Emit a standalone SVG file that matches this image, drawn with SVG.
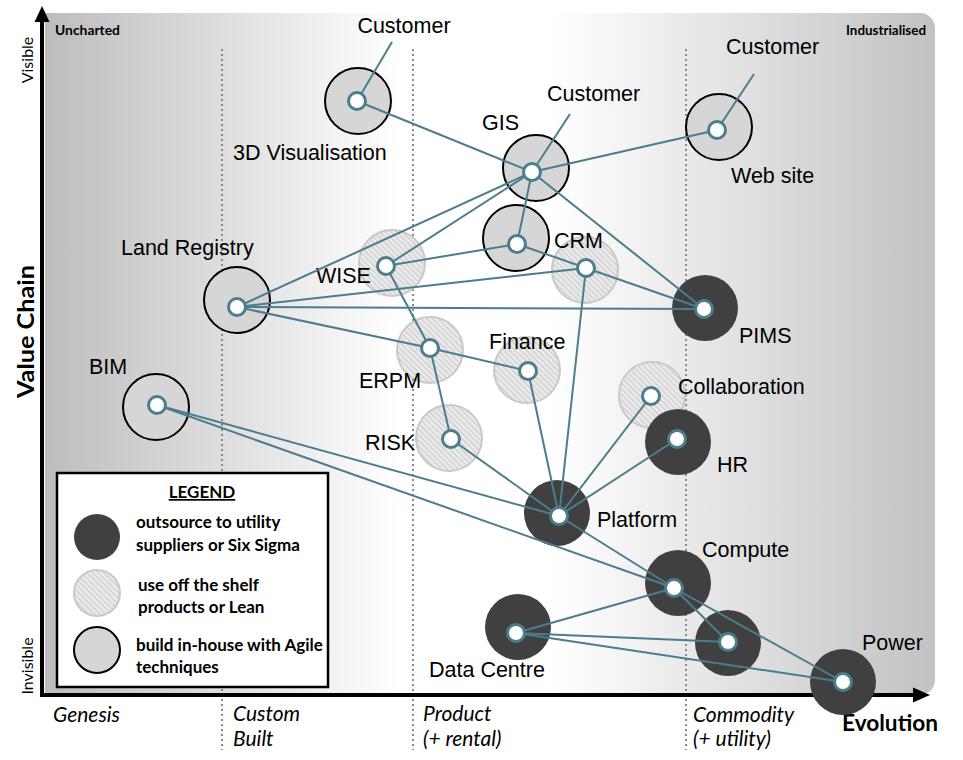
<svg xmlns="http://www.w3.org/2000/svg" width="963" height="760" viewBox="0 0 963 760">
<defs>
<linearGradient id="bg" x1="0" y1="0" x2="1" y2="0">
<stop offset="0" stop-color="#bdbdbd"/>
<stop offset="0.4" stop-color="#ffffff"/>
<stop offset="0.57" stop-color="#ffffff"/>
<stop offset="1" stop-color="#c2c2c2"/>
</linearGradient>
<pattern id="hatch" width="4" height="4" patternUnits="userSpaceOnUse" patternTransform="rotate(-45)">
<rect width="4" height="4" fill="#e9e9e9"/>
<line x1="0" y1="0" x2="0" y2="4" stroke="#c2c2c2" stroke-width="1.6"/>
</pattern>
<style>
.build{fill:#d6d6d6;stroke:#000;stroke-width:2}
.shelf{fill:url(#hatch);stroke:#c9c9c9;stroke-width:2}
.util{fill:#404040}
.hub{fill:#fff;stroke:#4b7d8c;stroke-width:3}
.edge{stroke:#4b7d8c;stroke-width:2;fill:none}
.lbl{font-family:"Liberation Sans",Arial,sans-serif;font-size:21.5px;fill:#000}
.dot{stroke:#8a8a8a;stroke-width:2;stroke-dasharray:2 3}
.ax{font-family:Lato,"Open Sans",sans-serif;fill:#000}
.stage{font-family:Lato,"Open Sans",sans-serif;font-style:italic;font-size:21px;fill:#000}
.leg{font-family:Lato,"Open Sans",sans-serif;font-weight:bold;font-size:17px;fill:#000}
</style>
</defs>
<rect width="963" height="760" fill="#fff"/>
<path d="M45,13 H920 A15,15 0 0 1 935,28 V680 A15,15 0 0 1 920,695 H45 Z" fill="url(#bg)"/>
<g id="grid">
<line class="dot" x1="222" y1="49" x2="222" y2="750"/>
<line class="dot" x1="413" y1="49" x2="413" y2="750"/>
<line class="dot" x1="686" y1="49" x2="686" y2="750"/>
</g>
<g id="axes">
<line x1="42" y1="697" x2="42" y2="20" stroke="#000" stroke-width="4"/>
<polygon points="42,6 34.5,22 49.5,22" fill="#000"/>
<line x1="40" y1="695" x2="915" y2="695" stroke="#000" stroke-width="4"/>
<polygon points="930,695 913,687.5 913,702.5" fill="#000"/>
<text class="ax" x="55" y="35" font-size="13.5" font-weight="bold" textLength="65" lengthAdjust="spacingAndGlyphs">Uncharted</text>
<text class="ax" x="846" y="35" font-size="13.5" font-weight="bold" textLength="80" lengthAdjust="spacingAndGlyphs">Industrialised</text>
<text class="ax" transform="translate(33,60) rotate(-90)" font-size="16" text-anchor="middle">Visible</text>
<text class="ax" transform="translate(33,666) rotate(-90)" font-size="16" text-anchor="middle">Invisible</text>
<text class="ax" transform="translate(34,398) rotate(-90)" font-size="23" font-weight="bold" textLength="133" lengthAdjust="spacingAndGlyphs">Value Chain</text>
<text class="ax" x="842" y="731" font-size="22.5" font-weight="bold" textLength="96" lengthAdjust="spacingAndGlyphs">Evolution</text>
<text class="stage" x="53" y="722">Genesis</text>
<text class="stage" x="233" y="721">Custom</text>
<text class="stage" x="233" y="746">Built</text>
<text class="stage" x="423" y="721">Product</text>
<text class="stage" x="423" y="746">(+ rental)</text>
<text class="stage" x="693" y="722">Commodity</text>
<text class="stage" x="693" y="746">(+ utility)</text>
</g>
<g id="legend">
<rect x="57" y="473" width="271" height="214" fill="#fff" stroke="#000" stroke-width="2.5"/>
<text class="leg" x="202" y="498" text-anchor="middle" text-decoration="underline">LEGEND</text>
<circle class="util" cx="97" cy="537" r="23"/>
<circle class="shelf" cx="97" cy="593" r="23"/>
<circle class="build" cx="97" cy="650" r="23"/>
<text class="leg" x="136" y="528">outsource to utility</text>
<text class="leg" x="136" y="551">suppliers or Six Sigma</text>
<text class="leg" x="138" y="591">use off the shelf</text>
<text class="leg" x="138" y="613">products or Lean</text>
<text class="leg" x="136" y="651">build in-house with Agile</text>
<text class="leg" x="136" y="673">techniques</text>
</g>
<g id="node-3d-visualisation"><circle class="build" cx="358" cy="101" r="33"/><text class="lbl" x="233" y="160">3D Visualisation</text></g>
<g id="node-customer-1"><text class="lbl" x="404" y="33" text-anchor="middle">Customer</text></g>
<g id="node-gis"><circle class="build" cx="536" cy="168" r="33"/><text class="lbl" x="482" y="130">GIS</text></g>
<g id="node-customer-2"><text class="lbl" x="547" y="101">Customer</text></g>
<g id="node-web-site"><circle class="build" cx="719" cy="127" r="33"/><text class="lbl" x="731" y="183">Web site</text></g>
<g id="node-customer-3"><text class="lbl" x="726" y="54">Customer</text></g>
<g id="node-crm-build"><circle class="build" cx="516" cy="238" r="33"/></g>
<g id="node-crm"><circle class="shelf" cx="585" cy="270" r="33"/><text class="lbl" x="554" y="248">CRM</text></g>
<g id="node-pims"><circle class="util" cx="705" cy="308" r="33"/><text class="lbl" x="739" y="343">PIMS</text></g>
<g id="node-wise"><circle class="shelf" cx="392" cy="263" r="33"/><text class="lbl" x="316" y="283">WISE</text></g>
<g id="node-land-registry"><circle class="build" cx="237" cy="300" r="33"/><text class="lbl" x="121" y="255">Land Registry</text></g>
<g id="node-erpm"><circle class="shelf" cx="430" cy="350" r="33"/><text class="lbl" x="359" y="388">ERPM</text></g>
<g id="node-finance"><circle class="shelf" cx="527" cy="370" r="33"/><text class="lbl" x="489" y="349">Finance</text></g>
<g id="node-risk"><circle class="shelf" cx="449" cy="438" r="33"/><text class="lbl" x="365" y="450">RISK</text></g>
<g id="node-bim"><circle class="build" cx="156" cy="407" r="33"/><text class="lbl" x="89" y="374">BIM</text></g>
<g id="node-collaboration"><circle class="shelf" cx="652" cy="395" r="33"/><text class="lbl" x="678" y="394">Collaboration</text></g>
<g id="node-hr"><circle class="util" cx="678" cy="442" r="33"/><text class="lbl" x="717" y="472">HR</text></g>
<g id="node-platform"><circle class="util" cx="557" cy="513" r="33"/><text class="lbl" x="597" y="527">Platform</text></g>
<g id="node-compute"><circle class="util" cx="678" cy="583" r="33"/><text class="lbl" x="702" y="557">Compute</text></g>
<g id="node-unnamed"><circle class="util" cx="728" cy="643" r="33"/></g>
<g id="node-data-centre"><circle class="util" cx="518" cy="627" r="33"/><text class="lbl" x="429" y="677">Data Centre</text></g>
<g id="node-power"><circle class="util" cx="843" cy="682" r="33"/><text class="lbl" x="862" y="650">Power</text></g>
<g id="connectors">
<line class="edge" x1="357" y1="101" x2="392" y2="42"/>
<line class="edge" x1="357" y1="101" x2="532" y2="172"/>
<line class="edge" x1="532" y1="172" x2="570" y2="114"/>
<line class="edge" x1="532" y1="172" x2="717" y2="130"/>
<line class="edge" x1="717" y1="130" x2="754" y2="74"/>
<line class="edge" x1="532" y1="172" x2="704" y2="309"/>
<line class="edge" x1="532" y1="172" x2="517" y2="244"/>
<line class="edge" x1="532" y1="172" x2="386" y2="266"/>
<line class="edge" x1="532" y1="172" x2="237" y2="307"/>
<line class="edge" x1="386" y1="266" x2="517" y2="244"/>
<line class="edge" x1="386" y1="266" x2="430" y2="348"/>
<line class="edge" x1="517" y1="244" x2="586" y2="268"/>
<line class="edge" x1="237" y1="307" x2="586" y2="268"/>
<line class="edge" x1="237" y1="307" x2="704" y2="309"/>
<line class="edge" x1="237" y1="307" x2="430" y2="348"/>
<line class="edge" x1="586" y1="268" x2="704" y2="309"/>
<line class="edge" x1="586" y1="268" x2="559" y2="516"/>
<line class="edge" x1="430" y1="348" x2="528" y2="371"/>
<line class="edge" x1="430" y1="348" x2="451" y2="439"/>
<line class="edge" x1="451" y1="439" x2="559" y2="516"/>
<line class="edge" x1="528" y1="371" x2="559" y2="516"/>
<line class="edge" x1="651" y1="396" x2="559" y2="516"/>
<line class="edge" x1="677" y1="439" x2="559" y2="516"/>
<line class="edge" x1="157" y1="405" x2="559" y2="516"/>
<line class="edge" x1="157" y1="405" x2="674" y2="588"/>
<line class="edge" x1="559" y1="516" x2="674" y2="588"/>
<line class="edge" x1="674" y1="588" x2="516" y2="633"/>
<line class="edge" x1="674" y1="588" x2="728" y2="642"/>
<line class="edge" x1="674" y1="588" x2="843" y2="682"/>
<line class="edge" x1="516" y1="633" x2="728" y2="642"/>
<line class="edge" x1="516" y1="633" x2="843" y2="682"/>
</g>
<g id="hubs">
<circle class="hub" cx="357" cy="101" r="8.5"/>
<circle class="hub" cx="532" cy="172" r="8.5"/>
<circle class="hub" cx="717" cy="130" r="8.5"/>
<circle class="hub" cx="517" cy="244" r="8.5"/>
<circle class="hub" cx="586" cy="268" r="8.5"/>
<circle class="hub" cx="704" cy="309" r="8.5"/>
<circle class="hub" cx="386" cy="266" r="8.5"/>
<circle class="hub" cx="237" cy="307" r="8.5"/>
<circle class="hub" cx="430" cy="348" r="8.5"/>
<circle class="hub" cx="451" cy="439" r="8.5"/>
<circle class="hub" cx="157" cy="405" r="8.5"/>
<circle class="hub" cx="528" cy="371" r="8.5"/>
<circle class="hub" cx="651" cy="396" r="8.5"/>
<circle class="hub" cx="677" cy="439" r="8.5"/>
<circle class="hub" cx="559" cy="516" r="8.5"/>
<circle class="hub" cx="674" cy="588" r="8.5"/>
<circle class="hub" cx="728" cy="642" r="8.5"/>
<circle class="hub" cx="516" cy="633" r="8.5"/>
<circle class="hub" cx="843" cy="682" r="8.5"/>
</g>
</svg>
